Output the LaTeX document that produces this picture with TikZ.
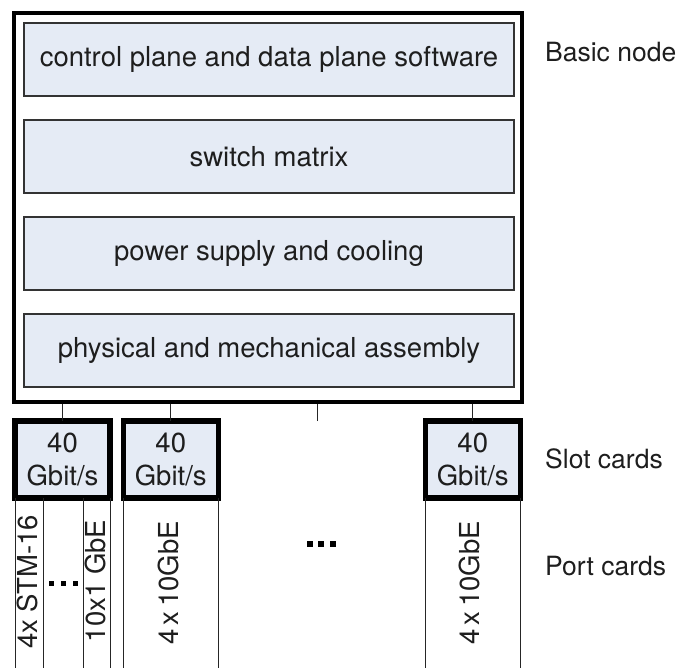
\documentclass[tikz,border=0pt]{standalone}
\usepackage{fontspec}
\setmainfont{TeX Gyre Heros}
\definecolor{panel}{RGB}{229,235,245}
\definecolor{ink}{RGB}{30,30,30}
\begin{document}
\begin{tikzpicture}[x=1pt,y=-1pt,
  txt/.style={font=\fontsize{27.5}{33}\selectfont, text=ink},
  layer/.style={txt, draw=black!80, line width=1.3pt, fill=panel,
    minimum width=490pt, minimum height=73pt, inner sep=0pt},
  chassis/.style={draw=black, line width=4pt, minimum width=508pt,
    minimum height=389pt, inner sep=0pt},
  slotcard/.style={txt, draw=black, line width=5.5pt, fill=panel,
    minimum width=95pt, minimum height=77pt, inner sep=0pt, outer sep=0pt,
    align=center},
  link/.style={draw=black!85, line width=0.9pt},
  portlabel/.style={txt, rotate=90, inner sep=0pt},
  sidelabel/.style={font=\fontsize{26.5}{32}\selectfont, text=ink,
    anchor=base west, inner sep=0pt},
  dot/.style={fill=black, minimum size=#1, inner sep=0pt}
]
\useasboundingbox (0,0) rectangle (680,668);

% basic node with its four layers
\node[chassis] (chassis) at (268,207.5) {};
\node[layer] (ctrl)  at (269,59.5)  {control plane and data plane software};
\node[layer] (sw)    at (269,156.5) {switch matrix};
\node[layer] (power) at (269,253.5) {power supply and cooling};
\node[layer] (mech)  at (269,350.5) {physical and mechanical assembly};

% slot cards
\node[slotcard] (slotA) at (62.5,459.5)  {40\\Gbit/s};
\node[slotcard] (slotB) at (170.75,459.5) {40\\Gbit/s};
\node[slotcard] (slotC) at (472.75,459.5) {40\\Gbit/s};

% attachments to the basic node
\draw[link] (slotA.north) -- (slotA.north |- chassis.south);
\draw[link] (slotB.north) -- (slotB.north |- chassis.south);
\draw[link] (slotC.north) -- (slotC.north |- chassis.south);
\coordinate (freeslot) at (317,421);
\draw[link] (freeslot) -- (freeslot |- chassis.south);

% port cards below the slot cards
\coordinate (floor) at (0,668);
\coordinate (splitA) at (43,498);
\coordinate (splitB) at (83,498);
\draw[link] (slotA.south west) -- (slotA.south west |- floor);
\draw[link] (splitA) -- (splitA |- floor);
\draw[link] (splitB) -- (splitB |- floor);
\draw[link] (slotA.south east) -- (slotA.south east |- floor);
\draw[link] (slotB.south west) -- (slotB.south west |- floor);
\draw[link] (slotB.south east) -- (slotB.south east |- floor);
\draw[link] (slotC.south west) -- (slotC.south west |- floor);
\draw[link] (slotC.south east) -- (slotC.south east |- floor);

\node[portlabel] (stm)  at (27,582)  {4x STM-16};
\node[portlabel] (gbe)  at (95,581)  {10x1 GbE};
\node[portlabel] (tenB) at (168,583) {4\,x\,10GbE};
\node[portlabel] (tenC) at (469,583) {4\,x\,10GbE};

% ellipses
\node[dot=5pt] (da1) at (51,583) {};
\node[dot=5pt] (da2) at (63,583) {};
\node[dot=5pt] (da3) at (75.5,583) {};
\node[dot=6pt] (dm1) at (309.5,544) {};
\node[dot=6pt] (dm2) at (321,544) {};
\node[dot=6pt] (dm3) at (332.5,544) {};

% side labels
\node[sidelabel] (lbasic) at (545,62)  {Basic node};
\node[sidelabel] (lslot)  at (545,468) {Slot cards};
\node[sidelabel] (lport)  at (545,575) {Port cards};
\end{tikzpicture}
\end{document}
